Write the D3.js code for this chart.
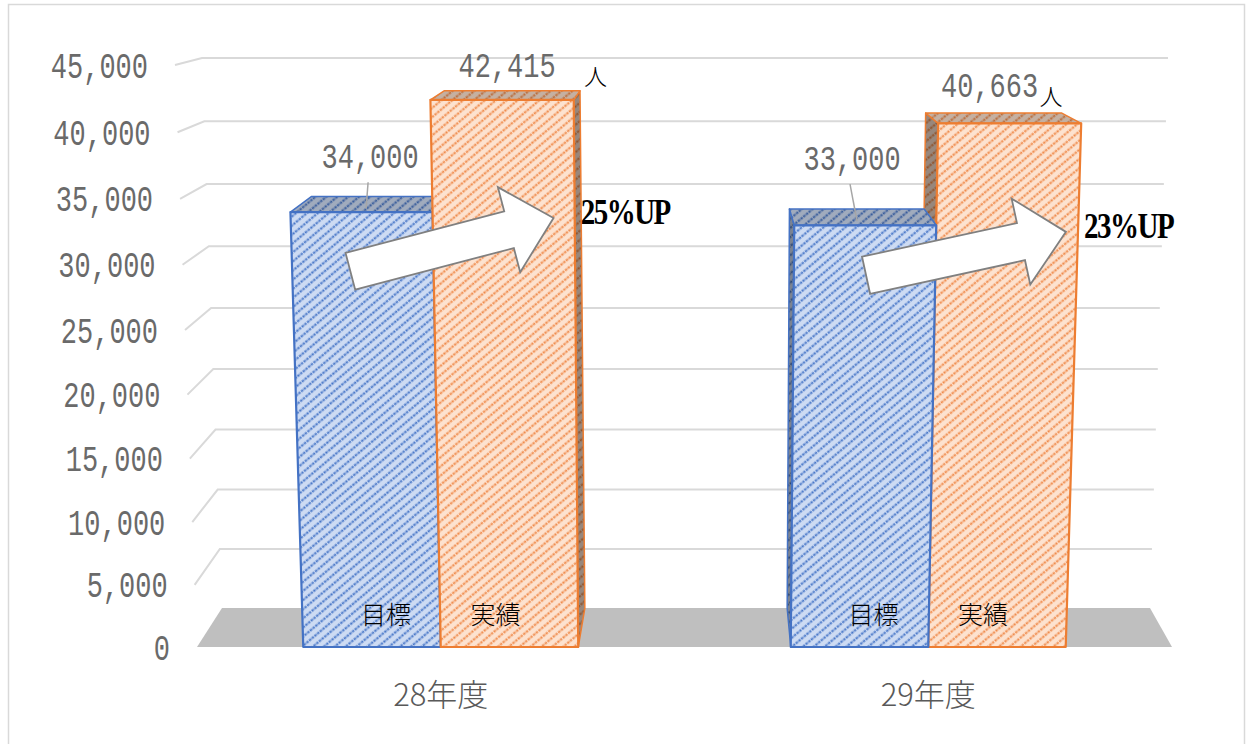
<!DOCTYPE html>
<html>
<head>
<meta charset="utf-8">
<script src="https://cdn.jsdelivr.net/npm/d3@7"></script>
<style>
  body { margin: 0; background: #fff; }
</style>
</head>
<body>
<div class="chart"></div>
<script>
// chart data
var categories = ["28年度", "29年度"];
var seriesNames = ["目標", "実績"];
var targetValues = [34000, 33000];
var actualValues = [42415, 40663];
var upLabels = ["25%UP", "23%UP"];
var tickValues = [0, 5000, 10000, 15000, 20000, 25000, 30000, 35000, 40000, 45000];

// arrow anchors (value at tail / value at tip) for each category
var arrowFrom = [29500, 29200];
var arrowTo = [33550, 32500];

var svgWidth = 1246;
var svgHeight = 744;

// projected corners of the front (z=0) and back (z=1) planes of the 3D plot box
var front = { tl: [175, 65], tr: [1194, 65], bl: [197, 647], br: [1172, 647] };
var back = { tl: [202, 58], tr: [1168, 58], bl: [222, 608], br: [1150, 608] };

var yScale = d3.scaleLinear().domain([0, 45000]).range([0, 1]);

var x0 = d3.scaleBand()
  .domain(categories)
  .range([0, 1])
  .paddingInner(0.436)
  .paddingOuter(0.218);

var x1 = d3.scaleBand()
  .domain(seriesNames)
  .range([0, x0.bandwidth()]);

// perspective interpolation along an edge (weights follow depth)
function persp(p0, p1, w0, w1, t) {
  var a = (1 - t) / w0, b = t / w1;
  return [(a * p0[0] + b * p1[0]) / (a + b), (a * p0[1] + b * p1[1]) / (a + b)];
}

function planePoint(pl, u, t) {
  var wb = pl.br[0] - pl.bl[0], wt = pl.tr[0] - pl.tl[0];
  var L = persp(pl.bl, pl.tl, wb, wt, t);
  var R = persp(pl.br, pl.tr, wb, wt, t);
  return [L[0] + (R[0] - L[0]) * u, L[1] + (R[1] - L[1]) * u];
}

function project(u, v, z) {
  var t = yScale(v);
  var f = planePoint(front, u, t), b = planePoint(back, u, t);
  return [f[0] + (b[0] - f[0]) * z, f[1] + (b[1] - f[1]) * z];
}

function pts(list) {
  return list.map(function (p) { return p[0].toFixed(2) + "," + p[1].toFixed(2); }).join(" ");
}

var svg = d3.select(".chart")
  .append("svg")
  .attr("width", svgWidth)
  .attr("height", svgHeight);

// hatch patterns
var defs = svg.append("defs");
var patterns = [
  { id: "hatch-0", bg: "#cddbf3", fg: "#4a78c8" },
  { id: "hatch-1", bg: "#fde2cf", fg: "#ef8c4e" }
];
patterns.forEach(function (p) {
  var pat = defs.append("pattern")
    .attr("id", p.id)
    .attr("width", 7)
    .attr("height", 7)
    .attr("patternUnits", "userSpaceOnUse")
    .attr("patternTransform", "rotate(-40)");
  pat.append("rect").attr("width", 7).attr("height", 7).attr("fill", p.bg);
  pat.append("line")
    .attr("x1", 0).attr("y1", 3.5).attr("x2", 7).attr("y2", 3.5)
    .attr("stroke", p.fg)
    .attr("stroke-width", 2)
    .attr("stroke-dasharray", "2.6 0.9");
});
var edgeColors = ["#4472c4", "#ed7d31"];

// outer border
svg.append("rect")
  .attr("x", 8.5).attr("y", 4.5)
  .attr("width", 1236).attr("height", 760)
  .attr("fill", "none")
  .attr("stroke", "#d9d9d9")
  .attr("stroke-width", 1.5);

// floor
svg.append("polygon")
  .attr("points", pts([project(0, 0, 0), project(1, 0, 0), project(1, 0, 1), project(0, 0, 1)]))
  .attr("fill", "#bfbfbf");

// gridlines: side wall segment + back wall line
var gridGroup = svg.append("g");
tickValues.filter(function (d) { return d > 0; }).forEach(function (v) {
  gridGroup.append("polyline")
    .attr("points", pts([project(0, v, 0), project(0, v, 1), project(1, v, 1)]))
    .attr("fill", "none")
    .attr("stroke", "#d9d9d9")
    .attr("stroke-width", 2);
});

// axis tick labels
var axisGroup = svg.append("g");
tickValues.forEach(function (v) {
  var p = project(0, v, 0);
  axisGroup.append("text")
    .attr("transform", "translate(" + (p[0] - 27) + "," + (p[1] + 3) + ") scale(1,1.35)")
    .attr("text-anchor", "end")
    .attr("dominant-baseline", "central")
    .attr("font-family", "Liberation Mono, monospace")
    .attr("font-size", 27)
    .attr("fill", "#6a6a6a")
    .text(d3.format(",")(v));
});

// bars
var bars = [];
categories.forEach(function (c, i) {
  [targetValues[i], actualValues[i]].forEach(function (v, j) {
    var u0 = x0(c) + x1(seriesNames[j]);
    bars.push({ cat: c, ci: i, si: j, value: v, u0: u0, u1: u0 + x1.bandwidth() });
  });
});

// vanishing position along u (where front and back edges align)
var uV = (back.bl[0] - front.bl[0]) /
  ((front.br[0] - front.bl[0]) - (back.br[0] - back.bl[0]));

bars.sort(function (a, b) {
  return Math.abs((b.u0 + b.u1) / 2 - uV) - Math.abs((a.u0 + a.u1) / 2 - uV);
});

var barGroup = svg.append("g");
bars.forEach(function (d) {
  var g = barGroup.append("g");
  var fill = "url(#hatch-" + d.si + ")";
  var stroke = edgeColors[d.si];
  var v = d.value;

  var faces = [];
  // side faces
  if (project(d.u0, v, 1)[0] < project(d.u0, v, 0)[0]) {
    faces.push({ p: [project(d.u0, 0, 0), project(d.u0, v, 0), project(d.u0, v, 1), project(d.u0, 0, 1)], shade: 0.4 });
  }
  if (project(d.u1, v, 1)[0] > project(d.u1, v, 0)[0]) {
    faces.push({ p: [project(d.u1, 0, 0), project(d.u1, v, 0), project(d.u1, v, 1), project(d.u1, 0, 1)], shade: 0.4 });
  }
  // top face
  faces.push({ p: [project(d.u0, v, 0), project(d.u1, v, 0), project(d.u1, v, 1), project(d.u0, v, 1)], shade: 0.22 });
  // front face
  faces.push({ p: [project(d.u0, 0, 0), project(d.u1, 0, 0), project(d.u1, v, 0), project(d.u0, v, 0)], shade: 0, front: true });

  faces.forEach(function (f) {
    g.append("polygon")
      .attr("points", pts(f.p))
      .attr("fill", fill);
    if (f.shade > 0) {
      g.append("polygon")
        .attr("points", pts(f.p))
        .attr("fill", "#000")
        .attr("fill-opacity", f.shade);
    }
    g.append("polygon")
      .attr("points", pts(f.p))
      .attr("fill", "none")
      .attr("stroke", stroke)
      .attr("stroke-width", f.front ? 2.2 : 1.5)
      .attr("stroke-linejoin", "round");
  });
});

// series names at the foot of each bar
var nameShift = [14, -14];
bars.forEach(function (d) {
  var p = project((d.u0 + d.u1) / 2, 0, 0);
  svg.append("text")
    .attr("x", p[0] + nameShift[d.si])
    .attr("y", p[1] - 34)
    .attr("text-anchor", "middle")
    .attr("dominant-baseline", "central")
    .attr("font-family", "Noto Sans CJK JP")
    .attr("font-weight", 300)
    .attr("font-size", 25)
    .attr("fill", "#000")
    .text(seriesNames[d.si]);
});

// category labels
categories.forEach(function (c) {
  var p = project(x0(c) + x0.bandwidth() / 2, 0, 0);
  svg.append("text")
    .attr("x", p[0])
    .attr("y", p[1] + 45)
    .attr("text-anchor", "middle")
    .attr("dominant-baseline", "central")
    .attr("font-family", "Noto Sans CJK JP")
    .attr("font-weight", 300)
    .attr("font-size", 31)
    .attr("fill", "#595959")
    .text(c);
});

// value labels (offsets from the top face centre)
var labelShift = [[[0, -46], [0, -28]], [[-9, -57], [-12, -31]]];
var unitShift = [27, 0];
bars.forEach(function (d) {
  var uc = (d.u0 + d.u1) / 2;
  var top = project(uc, d.value, 0.5);
  var off = labelShift[d.ci][d.si];
  var lx = top[0] + off[0], ly = top[1] + off[1];
  svg.append("text")
    .attr("transform", "translate(" + lx + "," + ly + ") scale(1,1.3)")
    .attr("text-anchor", "middle")
    .attr("dominant-baseline", "central")
    .attr("font-family", "Liberation Mono, monospace")
    .attr("font-size", 27)
    .attr("fill", "#6a6a6a")
    .text(d3.format(",")(d.value));
  if (d.si === 0) {
    // leader line
    svg.append("line")
      .attr("x1", lx - 2).attr("y1", ly + 24)
      .attr("x2", top[0] - 4).attr("y2", top[1] + 4)
      .attr("stroke", "#a6a6a6")
      .attr("stroke-width", 1.5);
  } else {
    svg.append("text")
      .attr("x", lx + 50 + unitShift[d.ci])
      .attr("y", ly + 8)
      .attr("dominant-baseline", "central")
      .attr("font-family", "Noto Sans CJK JP")
      .attr("font-weight", 300)
      .attr("font-size", 23)
      .attr("fill", "#000")
      .text("人");
  }
});

// block arrows and growth labels
function blockArrow(a, b) {
  var dx = b[0] - a[0], dy = b[1] - a[1];
  var len = Math.sqrt(dx * dx + dy * dy);
  var ux = dx / len, uy = dy / len, nx = -uy, ny = ux;
  var shaft = 19, head = 44, headLen = 46;
  var bx = b[0] - ux * headLen, by = b[1] - uy * headLen;
  return [
    [a[0] + nx * shaft, a[1] + ny * shaft],
    [bx + nx * shaft, by + ny * shaft],
    [bx + nx * head, by + ny * head],
    b,
    [bx - nx * head, by - ny * head],
    [bx - nx * shaft, by - ny * shaft],
    [a[0] - nx * shaft, a[1] - ny * shaft]
  ];
}

var arrowInset = [[0.058, 0.021], [0.072, 0.012]];
categories.forEach(function (c, i) {
  var uStart = x0(c) + arrowInset[i][0];
  var uEnd = x0(c) + x0.bandwidth() - arrowInset[i][1];
  var a = project(uStart, arrowFrom[i], 0);
  var b = project(uEnd, arrowTo[i], 0);
  svg.append("polygon")
    .attr("points", pts(blockArrow(a, b)))
    .attr("fill", "#fff")
    .attr("stroke", "#808080")
    .attr("stroke-width", 1.8)
    .attr("stroke-linejoin", "miter");

  var edge = project(x0(c) + x0.bandwidth(), arrowTo[i], 0);
  svg.append("text")
    .attr("transform", "translate(" + (edge[0] + 6) + "," + (b[1] - 6) + ") scale(1,1.2)")
    .attr("dominant-baseline", "central")
    .attr("font-family", "Liberation Serif, serif")
    .attr("font-weight", "bold")
    .attr("font-size", 29)
    .attr("letter-spacing", -1.5)
    .attr("fill", "#000")
    .text(upLabels[i]);
});
</script>
</body>
</html>
